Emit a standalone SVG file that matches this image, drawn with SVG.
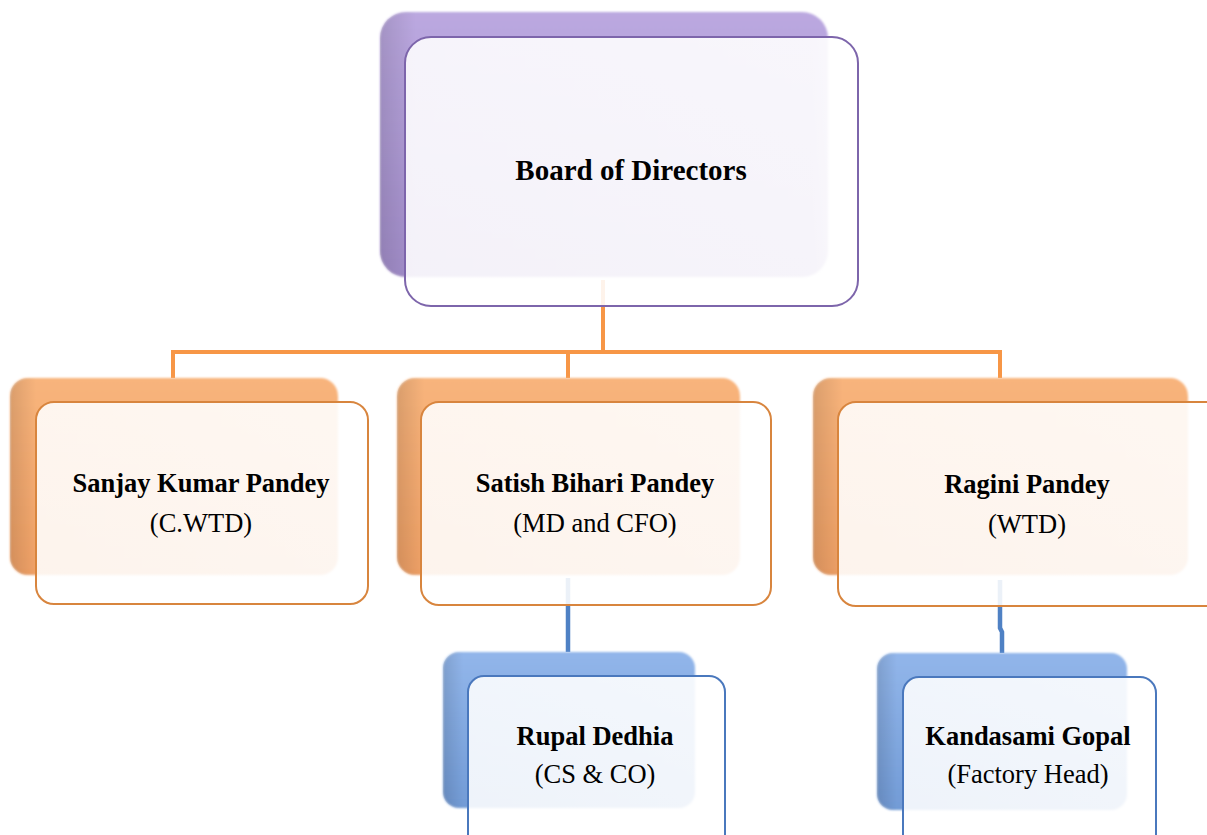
<svg xmlns="http://www.w3.org/2000/svg" width="1207" height="835" viewBox="0 0 1207 835">
<defs>
<linearGradient id="gP" x1="0" y1="0" x2="0" y2="1"><stop offset="0" stop-color="#bba8e0"/><stop offset="1" stop-color="#a48fcc"/></linearGradient>
<linearGradient id="gO" x1="0" y1="0" x2="0" y2="1"><stop offset="0" stop-color="#f8b47c"/><stop offset="1" stop-color="#f0a166"/></linearGradient>
<linearGradient id="gB" x1="0" y1="0" x2="0" y2="1"><stop offset="0" stop-color="#92b6ea"/><stop offset="1" stop-color="#729bd6"/></linearGradient>
<linearGradient id="gEdge" x1="0" y1="0" x2="1" y2="0"><stop offset="0" stop-color="#000" stop-opacity="0.12"/><stop offset="0.08" stop-color="#000" stop-opacity="0"/></linearGradient>
<linearGradient id="gF" x1="0" y1="0" x2="1" y2="0"><stop offset="0" stop-color="#fff" stop-opacity="0.88"/><stop offset="0.9" stop-color="#fff" stop-opacity="0.9"/><stop offset="1" stop-color="#fff" stop-opacity="0.96"/></linearGradient>
<filter id="soft" x="-5%" y="-5%" width="110%" height="110%"><feGaussianBlur stdDeviation="1.2"/></filter>
</defs>
<style>
.back{filter:url(#soft)}
.edge{fill:url(#gEdge)}
.front{fill:url(#gF);stroke-width:2}
.fp{stroke:#7d65ab}
.fo{stroke:#d8853e}
.fb{stroke:#4a78bd}
.b{font-family:"Liberation Serif","Times New Roman",serif;font-weight:bold;font-size:26.5px;text-anchor:middle;fill:#000}
.big{font-size:29px}
.r{font-family:"Liberation Serif","Times New Roman",serif;font-size:26.5px;text-anchor:middle;fill:#000}
.co{fill:none;stroke:#f79646;stroke-width:4}
.cb{fill:none;stroke:#4f81c4;stroke-width:4.5}
</style>
<rect width="1207" height="835" fill="#fff"/>
<g id="connectors">
<path class="co" d="M603 280 V352 M173 378 V352 H1000 V378 M568 352 V378"/>
<path class="cb" d="M568 578 V652"/>
<path class="cb" d="M1000 580 V628 L1002 632 V653"/>
</g>
<g id="board">
<rect class="back" x="380" y="12" width="448" height="265" rx="26" fill="url(#gP)"/>
<rect class="edge" x="380" y="12" width="448" height="265" rx="26"/>
<rect class="front fp" x="405" y="37" width="453" height="269" rx="26"/>
<text class="b big" x="631" y="180">Board of Directors</text>
</g>
<g id="sanjay">
<rect class="back" x="10" y="378" width="328" height="197" rx="18" fill="url(#gO)"/>
<rect class="edge" x="10" y="378" width="328" height="197" rx="18"/>
<rect class="front fo" x="36" y="402" width="332" height="202" rx="18"/>
<text class="b" x="201" y="492">Sanjay Kumar Pandey</text>
<text class="r" x="201" y="532">(C.WTD)</text>
</g>
<g id="satish">
<rect class="back" x="397" y="378" width="343" height="197" rx="18" fill="url(#gO)"/>
<rect class="edge" x="397" y="378" width="343" height="197" rx="18"/>
<rect class="front fo" x="421" y="402" width="350" height="203" rx="18"/>
<text class="b" x="595" y="492">Satish Bihari Pandey</text>
<text class="r" x="595" y="532">(MD and CFO)</text>
</g>
<g id="ragini">
<rect class="back" x="813" y="378" width="375" height="197" rx="18" fill="url(#gO)"/>
<rect class="edge" x="813" y="378" width="375" height="197" rx="18"/>
<rect class="front fo" x="838" y="402" width="390" height="204" rx="18"/>
<text class="b" x="1027" y="493">Ragini Pandey</text>
<text class="r" x="1027" y="533">(WTD)</text>
</g>
<g id="rupal">
<rect class="back" x="443" y="652" width="252" height="156" rx="16" fill="url(#gB)"/>
<rect class="edge" x="443" y="652" width="252" height="156" rx="16"/>
<rect class="front fb" x="468" y="676" width="257" height="180" rx="16"/>
<text class="b" x="595" y="745">Rupal Dedhia</text>
<text class="r" x="595" y="783">(CS &amp; CO)</text>
</g>
<g id="kandasami">
<rect class="back" x="877" y="653" width="250" height="157" rx="16" fill="url(#gB)"/>
<rect class="edge" x="877" y="653" width="250" height="157" rx="16"/>
<rect class="front fb" x="903" y="677" width="253" height="180" rx="16"/>
<text class="b" x="1028" y="745">Kandasami Gopal</text>
<text class="r" x="1028" y="783">(Factory Head)</text>
</g>
</svg>
